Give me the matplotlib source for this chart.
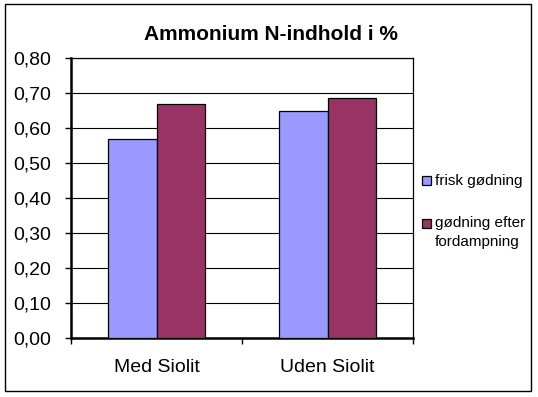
import matplotlib
matplotlib.use("Agg")
import matplotlib.pyplot as plt
import numpy as np
from matplotlib.patches import Rectangle

categories = ["Med Siolit", "Uden Siolit"]
series_names = ["frisk gødning", "gødning efter\nfordampning"]
frisk = [0.57, 0.65]
efter = [0.67, 0.685]
yticks = [0.0, 0.1, 0.2, 0.3, 0.4, 0.5, 0.6, 0.7, 0.8]
ytick_labels = ["0,00", "0,10", "0,20", "0,30", "0,40", "0,50", "0,60", "0,70", "0,80"]
colors = ["#9999FF", "#993366"]
title = "Ammonium N-indhold i %"

plt.rcParams['font.family'] = ['Liberation Sans', 'DejaVu Sans']

W, H = 538, 397
fig = plt.figure(figsize=(W / 100, H / 100), dpi=100)

def px(x0, y0, x1, y1):
    return [x0 / W, 1 - y1 / H, (x1 - x0) / W, (y1 - y0) / H]

# chart border
fig.patches.append(Rectangle((4.5 / W, 1 - 391 / H), 526.5 / W, 387 / H,
                             transform=fig.transFigure, fill=False,
                             edgecolor='black', linewidth=1.0))

ax = fig.add_axes(px(71, 58, 413, 338))
x = np.arange(len(categories))
w = 1 / 3.5
b1 = ax.bar(x - w / 2, frisk, w, color=colors[0], edgecolor='black', linewidth=0.9, zorder=3)
b2 = ax.bar(x + w / 2, efter, w, color=colors[1], edgecolor='black', linewidth=0.9, zorder=3)

ax.set_xlim(-0.5, len(categories) - 0.5)
ax.set_ylim(0, 0.8)
ax.set_yticks(yticks)
ax.set_yticklabels(ytick_labels, fontsize=14)
ax.yaxis.grid(True, color='black', linewidth=0.8, zorder=0)
ax.set_axisbelow(True)

ax.set_xticks(np.arange(-0.5, len(categories), 1.0))
ax.set_xticklabels([])
ax.set_xticks(x, minor=True)
ax.set_xticklabels(categories, minor=True, fontsize=14)
ax.tick_params(axis='x', which='minor', length=0, pad=15)
ax.tick_params(axis='x', which='major', length=4, width=1, direction='out')
ax.tick_params(axis='y', length=4, width=1, direction='out', pad=10)

for s in ['left', 'bottom']:
    ax.spines[s].set_linewidth(1.8)
for s in ['top', 'right']:
    ax.spines[s].set_linewidth(0.9)

fig.text(271 / W, 1 - 34.5 / H, title, ha='center', va='center',
         fontsize=15, fontweight='bold')

# legend (manual layout, colours from the bars)
leg_items = [(b1, series_names[0], 176), (b2, series_names[1], 219)]
for bars, label, ytop in leg_items:
    fig.patches.append(Rectangle((421.7 / W, 1 - (ytop + 9) / H), 9 / W, 9 / H,
                                 transform=fig.transFigure,
                                 facecolor=bars.patches[0].get_facecolor(),
                                 edgecolor='black', linewidth=0.9))
    fig.text(435 / W, 1 - (ytop - 2.5) / H, label, ha='left', va='top',
             fontsize=11, linespacing=1.4)

fig.savefig("out.png", dpi=100)
